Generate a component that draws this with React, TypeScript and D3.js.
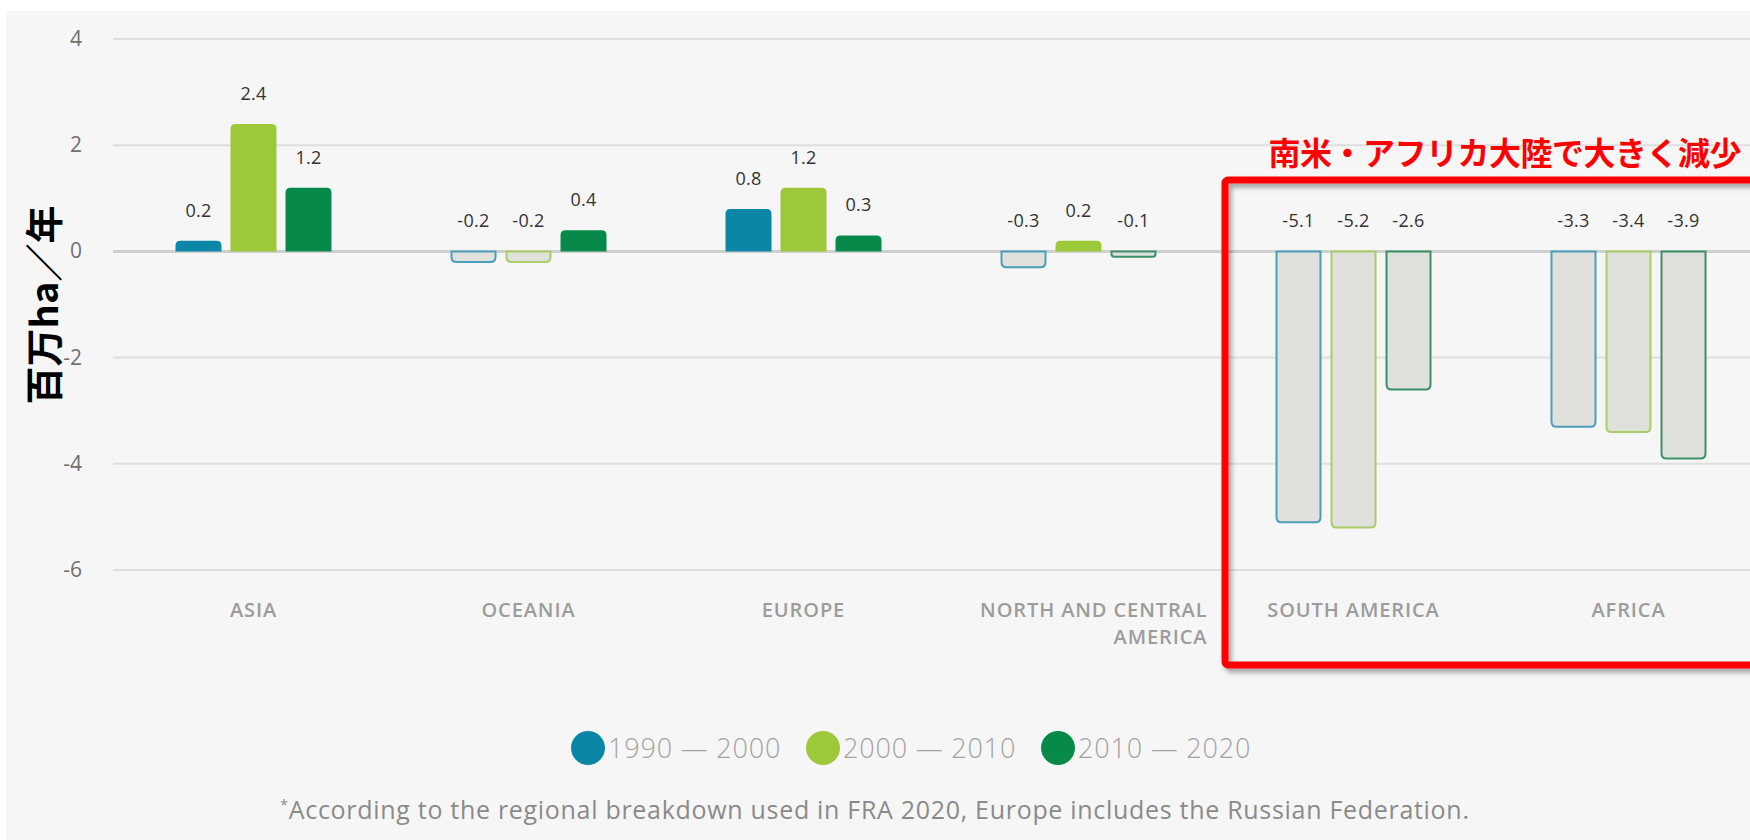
import { useEffect, useRef } from "react";
import * as d3 from "d3";

// ---------------------------------------------------------------------------
// Data
// ---------------------------------------------------------------------------

const CATEGORIES = ["ASIA", "OCEANIA", "EUROPE", "NORTH AND CENTRAL AMERICA", "SOUTH AMERICA", "AFRICA"];
const CATEGORY_LINES: string[][] = [
  ["ASIA"],
  ["OCEANIA"],
  ["EUROPE"],
  ["NORTH AND CENTRAL", "AMERICA"],
  ["SOUTH AMERICA"],
  ["AFRICA"],
];

const SERIES = ["1990 — 2000", "2000 — 2010", "2010 — 2020"];
const VALUES_1990 = [0.2, -0.2, 0.8, -0.3, -5.1, -3.3];
const VALUES_2000 = [2.4, -0.2, 1.2, 0.2, -5.2, -3.4];
const VALUES_2010 = [1.2, 0.4, 0.3, -0.1, -2.6, -3.9];
const SERIES_VALUES = [VALUES_1990, VALUES_2000, VALUES_2010];

const Y_TICKS = [4, 2, 0, -2, -4, -6];

const Y_TITLE = "百万ha／年";
const CALLOUT = "南米・アフリカ大陸で大きく減少";
const FOOTNOTE = "According to the regional breakdown used in FRA 2020, Europe includes the Russian Federation.";

// ---------------------------------------------------------------------------
// Colours
// ---------------------------------------------------------------------------

const FILL = ["#0b86a7", "#9dc83a", "#07894a"];
const NEG_STROKE = ["#4b9fb9", "#aacd6a", "#3d8f68"];
const NEG_FILL = "#e0e0dc";
const FONT = "'Open Sans', 'DejaVu Sans', sans-serif";
const CJK = "'Noto Sans CJK JP', sans-serif";

const W = 1750;
const H = 840;
const LABEL_BOX = 258;

function barPath(x: number, w: number, y0: number, y1: number, r: number) {
  const h = Math.abs(y1 - y0);
  const rr = Math.min(r, h / 2, w / 2);
  if (y1 < y0) {
    // positive: rounded top
    return `M${x},${y0}V${y1 + rr}Q${x},${y1} ${x + rr},${y1}H${x + w - rr}Q${x + w},${y1} ${x + w},${y1 + rr}V${y0}Z`;
  }
  return `M${x},${y0}V${y1 - rr}Q${x},${y1} ${x + rr},${y1}H${x + w - rr}Q${x + w},${y1} ${x + w},${y1 - rr}V${y0}Z`;
}

export default function App() {
  const svgRef = useRef<SVGSVGElement>(null);

  useEffect(() => {
    const svg = d3.select(svgRef.current);
    svg.selectAll("*").remove();

    const defs = svg.append("defs");
    const f = defs
      .append("filter")
      .attr("id", "shadow")
      .attr("x", "-5%")
      .attr("y", "-5%")
      .attr("width", "110%")
      .attr("height", "110%");
    f.append("feDropShadow")
      .attr("dx", 3)
      .attr("dy", 4)
      .attr("stdDeviation", 2.5)
      .attr("flood-color", "#000")
      .attr("flood-opacity", 0.35);

    // panel background
    svg.append("rect").attr("x", 0).attr("y", 0).attr("width", W).attr("height", H).attr("fill", "#ffffff");
    svg.append("rect").attr("x", 6).attr("y", 11).attr("width", W).attr("height", H).attr("fill", "#f6f6f6");

    // ---- Scales ----
    const y = d3.scaleLinear().domain([-6, 4]).range([570, 39]);
    const x0 = d3.scaleBand<string>().domain(CATEGORIES).range([116, 1766]);
    const groupW = 156;
    const x1 = d3.scaleBand<string>().domain(SERIES).range([0, groupW]).paddingInner(0.164);
    const cx = (c: string) => (x0(c) ?? 0) + x0.bandwidth() / 2;

    // ---- Gridlines ----
    svg
      .append("g")
      .selectAll("line")
      .data(Y_TICKS.filter((t) => t !== 0))
      .join("line")
      .attr("x1", 113)
      .attr("x2", W)
      .attr("y1", (d) => y(d))
      .attr("y2", (d) => y(d))
      .attr("stroke", "#dedede")
      .attr("stroke-width", 2);

    svg
      .append("line")
      .attr("x1", 113)
      .attr("x2", W)
      .attr("y1", y(0))
      .attr("y2", y(0))
      .attr("stroke", "#cfcfcf")
      .attr("stroke-width", 3);

    // ---- Y tick labels ----
    svg
      .append("g")
      .selectAll("text")
      .data(Y_TICKS)
      .join("text")
      .attr("x", 82)
      .attr("y", (d) => y(d) + 7)
      .attr("text-anchor", "end")
      .attr("font-family", FONT)
      .attr("font-size", 21)
      .attr("fill", "#707070")
      .text((d) => String(d));

    // ---- Y title ----
    svg
      .append("text")
      .attr("transform", `translate(58,305) rotate(-90)`)
      .attr("text-anchor", "middle")
      .attr("font-family", CJK)
      .attr("font-weight", 700)
      .attr("font-size", 38)
      .attr("fill", "#000")
      .text(Y_TITLE);

    // ---- Bars ----
    const rows = CATEGORIES.flatMap((c, ci) =>
      SERIES.map((s, si) => ({ c, s, si, v: SERIES_VALUES[si][ci] }))
    );

    const bars = svg.append("g");
    rows.forEach((d) => {
      const bx = cx(d.c) - groupW / 2 + (x1(d.s) ?? 0);
      const bw = x1.bandwidth();
      if (d.v >= 0) {
        bars
          .append("path")
          .attr("d", barPath(bx, bw, y(0), y(d.v), 5))
          .attr("fill", FILL[d.si]);
      } else {
        bars
          .append("path")
          .attr("d", barPath(bx + 1, bw - 2, y(0), y(d.v), 5))
          .attr("fill", NEG_FILL)
          .attr("stroke", NEG_STROKE[d.si])
          .attr("stroke-width", 2);
      }
    });

    // ---- Value labels ----
    svg
      .append("g")
      .selectAll("text")
      .data(rows)
      .join("text")
      .attr("x", (d) => cx(d.c) - groupW / 2 + (x1(d.s) ?? 0) + x1.bandwidth() / 2)
      .attr("y", (d) => y(Math.max(0, d.v)) - 24)
      .attr("text-anchor", "middle")
      .attr("font-family", FONT)
      .attr("font-size", 18)
      .attr("letter-spacing", 0.3)
      .attr("fill", "#333")
      .text((d) => String(d.v));

    // ---- Category labels ----
    const cat = svg.append("g");
    CATEGORIES.forEach((c, ci) => {
      const lines = CATEGORY_LINES[ci];
      const multi = lines.length > 1;
      const lx = multi ? cx(c) + LABEL_BOX / 2 : cx(c);
      lines.forEach((line, li) => {
        cat
          .append("text")
          .attr("x", lx)
          .attr("y", 617 + li * 27)
          .attr("text-anchor", multi ? "end" : "middle")
          .attr("font-family", FONT)
          .attr("font-weight", 600)
          .attr("font-size", 20)
          .attr("letter-spacing", 0.9)
          .attr("fill", "#9c9c9c")
          .text(line);
      });
    });

    // ---- Callout ----
    svg
      .append("rect")
      .attr("x", 1225)
      .attr("y", 180)
      .attr("width", 700)
      .attr("height", 485)
      .attr("rx", 3)
      .attr("fill", "none")
      .attr("stroke", "#ff0000")
      .attr("stroke-width", 7)
      .attr("filter", "url(#shadow)");

    svg
      .append("text")
      .attr("x", 1741)
      .attr("y", 165)
      .attr("text-anchor", "end")
      .attr("font-family", CJK)
      .attr("font-weight", 700)
      .attr("font-size", 32)
      .attr("letter-spacing", -0.5)
      .attr("fill", "#ff0000")
      .text(CALLOUT);

    // ---- Legend ----
    const lg = svg
      .append("g")
      .selectAll("g")
      .data(SERIES)
      .join("g")
      .attr("transform", (_d, i) => `translate(${588 + i * 235},748)`);
    lg.append("circle").attr("r", 17).attr("fill", (_d, i) => FILL[i]);
    lg.append("text")
      .attr("x", 20)
      .attr("y", 10)
      .attr("font-family", FONT)
      .attr("font-weight", 300)
      .attr("font-size", 27)
      .attr("letter-spacing", 0.8)
      .attr("fill", "#a3a3a3")
      .text((d) => d);

    // ---- Footnote ----
    const fn = svg
      .append("text")
      .attr("x", 875)
      .attr("y", 819)
      .attr("text-anchor", "middle")
      .attr("font-family", FONT)
      .attr("font-size", 25)
      .attr("letter-spacing", 0.7)
      .attr("fill", "#8a8a8a");
    fn.append("tspan").attr("font-size", 14).attr("dy", -9).text("*");
    fn.append("tspan").attr("dy", 9).text(FOOTNOTE);
  }, []);

  return (
    <svg
      ref={svgRef}
      width={W}
      height={H}
      style={{ position: "absolute", left: 0, top: 0, display: "block" }}
    />
  );
}
